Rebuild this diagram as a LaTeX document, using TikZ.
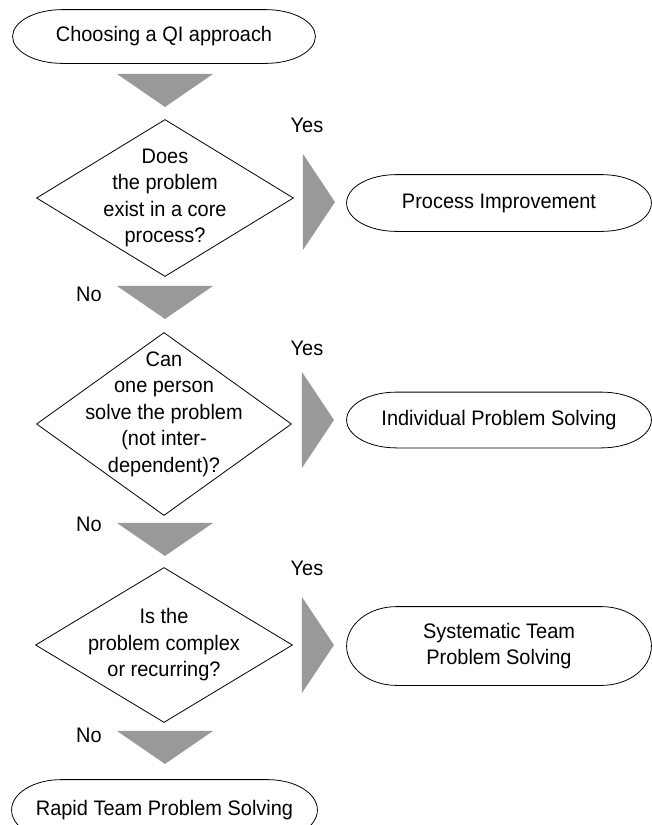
\documentclass[tikz,border=0pt]{standalone}
\usepackage{fontspec}
\setmainfont[FakeStretch=0.95]{Liberation Sans}
\usetikzlibrary{shapes.geometric, calc, positioning}
\definecolor{arrowgrey}{HTML}{999999}
\tikzstyle{terminal} = [inner sep=0pt, align=center, font=\fontsize{10.5}{13.2}\selectfont,
append after command={\pgfextra{
\draw ([xshift=25pt]\tikzlastnode.north west) -- ([xshift=-25pt]\tikzlastnode.north east)
.. controls ([xshift=-11pt]\tikzlastnode.north east) and ($(\tikzlastnode.east)!0.552!(\tikzlastnode.north east)$) .. (\tikzlastnode.east)
.. controls ($(\tikzlastnode.east)!0.552!(\tikzlastnode.south east)$) and ([xshift=-11pt]\tikzlastnode.south east) .. ([xshift=-25pt]\tikzlastnode.south east)
-- ([xshift=25pt]\tikzlastnode.south west)
.. controls ([xshift=11pt]\tikzlastnode.south west) and ($(\tikzlastnode.west)!0.552!(\tikzlastnode.south west)$) .. (\tikzlastnode.west)
.. controls ($(\tikzlastnode.west)!0.552!(\tikzlastnode.north west)$) and ([xshift=11pt]\tikzlastnode.north west) .. cycle;}}]
\tikzstyle{decision} = [diamond, draw=black, inner sep=0pt]
\tikzstyle{question} = [align=center, font=\fontsize{10.5}{13.25}\selectfont]
\tikzstyle{downarrow} = [isosceles triangle, isosceles triangle stretches, shape border rotate=270,
fill=arrowgrey, inner sep=0pt, minimum width=48pt, minimum height=16.5pt, anchor=apex]
\tikzstyle{rightarrow} = [isosceles triangle, isosceles triangle stretches,
fill=arrowgrey, inner sep=0pt, minimum width=48pt, minimum height=16pt, anchor=apex]
\tikzstyle{answer} = [font=\fontsize{10.5}{13}\selectfont, inner sep=0pt]

\begin{document}
\begin{tikzpicture}[x=0.5pt, y=-0.5pt]
\useasboundingbox (0,0) rectangle (652,825);

% ------------------------- nodes -------------------------
% ----- start
\node(start)[terminal, minimum width=151pt, minimum height=26.5pt] at (164,36.5) {Choosing a QI approach};
\node(arr0)[downarrow] at (165,108) {};
% ----- question 1
\node(q1)[decision, minimum width=128.5pt, minimum height=78.5pt,
label={[question]center:Does\\the problem\\exist in a core\\process?}] at (165,198) {};
\node(yes1)[answer] at (307,125) {Yes};
\node(arr1)[rightarrow] at (336,202) {};
\node(pi)[terminal, minimum width=152pt, minimum height=28pt] at (499,203) {Process Improvement};
\node(no1)[answer] at (89,294) {No};
\node(arr2)[downarrow] at (165,320) {};
% ----- question 2
\node(q2)[decision, minimum width=127.5pt, minimum height=91.5pt,
label={[question, yshift=5pt]center:Can\\one person\\solve the problem\\(not inter-\\dependent)?}] at (164,424) {};
\node(yes2)[answer] at (307,348) {Yes};
\node(arr3)[rightarrow] at (335,420) {};
\node(ips)[terminal, minimum width=152pt, minimum height=27.5pt] at (499,420) {Individual Problem Solving};
\node(no2)[answer] at (89,524) {No};
\node(arr4)[downarrow] at (165,557) {};
% ----- question 3
\node(q3)[decision, minimum width=128.5pt, minimum height=77.5pt,
label={[question]center:Is the\\problem complex\\or recurring?}] at (164,645) {};
\node(yes3)[answer] at (307,568) {Yes};
\node(arr5)[rightarrow] at (335,645) {};
\node(stps)[terminal, minimum width=152pt, minimum height=39pt] at (499,646) {Systematic Team\\Problem Solving};
\node(no3)[answer] at (89,735) {No};
\node(arr6)[downarrow] at (165,765) {};
% ----- end
\node(rtps)[terminal, minimum width=152.5pt, minimum height=30pt] at (164.5,810) {Rapid Team Problem Solving};
\end{tikzpicture}
\end{document}
